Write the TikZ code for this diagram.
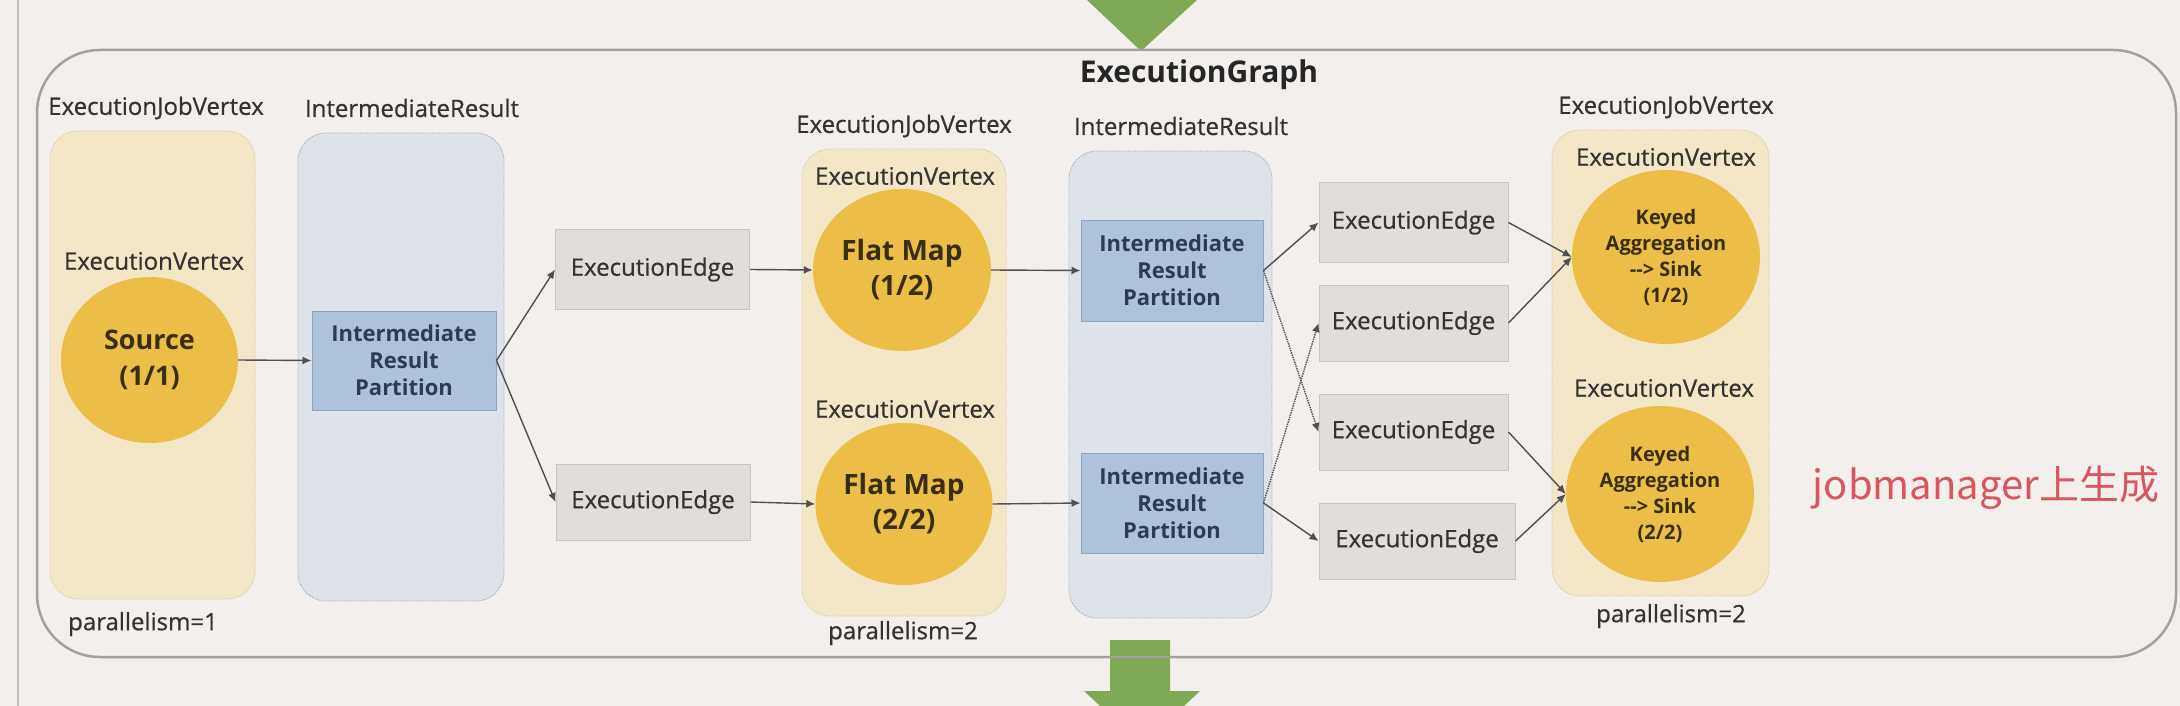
\documentclass[tikz,border=0pt]{standalone}
\usepackage{fontspec}
\setmainfont{Open Sans}
\newfontfamily\lblfont[FakeBold=0.6]{Open Sans}
\newfontfamily\cjkfont{Noto Sans CJK SC}
\usepackage{tikz}
\usetikzlibrary{shapes.geometric}
\usetikzlibrary{arrows.meta}
\usetikzlibrary{positioning}

\definecolor{bgcol}{HTML}{F2EFEC}
\definecolor{framecol}{HTML}{A3A09D}
\definecolor{jvfill}{HTML}{F4E7C8}
\definecolor{jvline}{HTML}{D2C39C}
\definecolor{irfill}{HTML}{DEE3EA}
\definecolor{irline}{HTML}{98A4B4}
\definecolor{partfill}{HTML}{AEC2DA}
\definecolor{partline}{HTML}{8EA3BF}
\definecolor{parttext}{HTML}{2E3B52}
\definecolor{edgefill}{HTML}{E1DDDA}
\definecolor{edgeline}{HTML}{C9C5C1}
\definecolor{opcol}{HTML}{ECBE48}
\definecolor{optext}{HTML}{3A2E12}
\definecolor{lbltext}{HTML}{333333}
\definecolor{conncol}{HTML}{505050}
\definecolor{greencol}{HTML}{80A956}
\definecolor{redtext}{HTML}{D95560}

\begin{document}
\begin{tikzpicture}[x=1pt,y=-1pt,
    jvbox/.style={rectangle, rounded corners=28pt, fill=jvfill, draw=jvline, densely dotted, line width=0.8pt, inner sep=0pt},
    irbox/.style={rectangle, rounded corners=28pt, fill=irfill, draw=irline, densely dotted, line width=0.8pt, inner sep=0pt},
    partbox/.style={rectangle, fill=partfill, draw=partline, line width=1pt, align=center, text=parttext, font=\bfseries\fontsize{22}{27}\selectfont, inner sep=0pt},
    edgebox/.style={rectangle, fill=edgefill, draw=edgeline, line width=1pt, text=lbltext, font=\lblfont\fontsize{24}{28}\selectfont, inner sep=0pt},
    opnode/.style={ellipse, fill=opcol, inner sep=0pt, align=center, text=optext},
    lbl/.style={text=lbltext, font=\lblfont\fontsize{24}{28}\selectfont, inner sep=0pt},
    conn/.style={draw=conncol, line width=1.4pt, -{Latex[length=9pt,width=8pt]}},
    crossconn/.style={conn, densely dotted}]
\clip (0,0) rectangle (2180,706);
\fill[bgcol] (0,0) rectangle (2180,706);
\draw[framecol!70, line width=1.5pt] (18,0) -- (18,706);

% green arrows between the stages
\fill[greencol] (1087,0) -- (1197,0) -- (1141,51) -- cycle;
\fill[greencol] (1110,640) -- (1170,640) -- (1170,691) -- (1200,691) -- (1142,745) -- (1084,691) -- (1110,691) -- cycle;

% outer frame
\draw[framecol, line width=2.5pt, rounded corners=63pt] (37,50) rectangle (2176,657);
\node[font=\bfseries\fontsize{30}{34}\selectfont, text=black!85] (title) at (1199,75) {ExecutionGraph};

% source vertex
\node[jvbox, minimum width=205pt, minimum height=468pt] (jv1) at (152.5,365) {};
\node[lbl] (jv1lbl) at (156,108) {ExecutionJobVertex};
\node[lbl] (ev1) at (154,261) {ExecutionVertex};
\node[opnode, minimum width=177pt, minimum height=166pt, font=\bfseries\fontsize{27}{36}\selectfont] (src) at (149.5,360) {Source\\(1/1)};
\node[lbl] (par1) at (143,624) {parallelism=1};

% first intermediate result
\node[irbox, minimum width=206pt, minimum height=468pt] (ir1) at (401,367) {};
\node[lbl] (ir1lbl) at (412,108) {IntermediateResult};
\node[partbox, minimum width=184pt, minimum height=99pt] (p1) at (404,360.5) {Intermediate\\Result\\Partition};

% edges to flat map
\node[edgebox, minimum width=194pt, minimum height=80pt] (e1) at (652.5,269.5) {ExecutionEdge};
\node[edgebox, minimum width=194pt, minimum height=76pt] (e2) at (653,502) {ExecutionEdge};

% flat map vertex
\node[jvbox, minimum width=204pt, minimum height=467pt] (jv2) at (904,382.5) {};
\node[lbl] (jv2lbl) at (904,126) {ExecutionJobVertex};
\node[lbl] (ev2a) at (905,176) {ExecutionVertex};
\node[lbl] (ev2b) at (905,409) {ExecutionVertex};
\node[opnode, minimum width=178pt, minimum height=162pt, font=\bfseries\fontsize{28}{35}\selectfont] (fm1) at (902,270) {Flat Map\\(1/2)};
\node[opnode, minimum width=177pt, minimum height=162pt, font=\bfseries\fontsize{28}{35}\selectfont] (fm2) at (904,504) {Flat Map\\(2/2)};
\node[lbl] (par2) at (903,633) {parallelism=2};

% second intermediate result
\node[irbox, minimum width=203pt, minimum height=467pt] (ir2) at (1170.5,384.5) {};
\node[lbl] (ir2lbl) at (1181,126) {IntermediateResult};
\node[partbox, minimum width=182pt, minimum height=101pt] (p2a) at (1172,270.5) {Intermediate\\Result\\Partition};
\node[partbox, minimum width=182pt, minimum height=100pt] (p2b) at (1172,503) {Intermediate\\Result\\Partition};

% edges to aggregation
\node[edgebox, minimum width=189pt, minimum height=79pt] (e3a) at (1413.5,222.5) {ExecutionEdge};
\node[edgebox, minimum width=189pt, minimum height=76pt] (e3b) at (1413.5,323) {ExecutionEdge};
\node[edgebox, minimum width=189pt, minimum height=76pt] (e3c) at (1413.5,432) {ExecutionEdge};
\node[edgebox, minimum width=196pt, minimum height=76pt] (e3d) at (1417,541) {ExecutionEdge};

% aggregation / sink vertex
\node[jvbox, minimum width=217pt, minimum height=466pt] (jv3) at (1660.5,363) {};
\node[lbl] (jv3lbl) at (1666,107) {ExecutionJobVertex};
\node[lbl] (ev3a) at (1666,157) {ExecutionVertex};
\node[lbl] (ev3b) at (1664,388) {ExecutionVertex};
\node[opnode, minimum width=188pt, minimum height=174pt, font=\bfseries\fontsize{20}{26}\selectfont] (k1) at (1666,257) {Keyed\\Aggregation\\-{}-> Sink\\(1/2)};
\node[opnode, minimum width=188pt, minimum height=176pt, font=\bfseries\fontsize{20}{26}\selectfont] (k2) at (1660,494) {Keyed\\Aggregation\\-{}-> Sink\\(2/2)};
\node[lbl] (par3) at (1671,616) {parallelism=2};

\node[text=redtext, font=\cjkfont\fontsize{40}{44}\selectfont] (note) at (1986,488) {jobmanager上生成};

% connectors
\draw[conn] (src.east) -- (p1.west);
\draw[conn] (p1.east) -- (e1.west);
\draw[conn] (p1.east) -- (e2.west);
\draw[conn] (e1.east) -- (fm1.west);
\draw[conn] (e2.east) -- (fm2.west);
\draw[conn] (fm1.east) -- (p2a.west);
\draw[conn] (fm2.east) -- (p2b.west);
\draw[conn] (p2a.east) -- (e3a.west);
\draw[crossconn] (p2a.east) -- (e3c.west);
\draw[crossconn] (p2b.east) -- (e3b.west);
\draw[conn] (p2b.east) -- (e3d.west);
\draw[conn] (e3a.east) -- (k1.west);
\draw[conn] (e3b.east) -- (k1.west);
\draw[conn] (e3c.east) -- (k2.west);
\draw[conn] (e3d.east) -- (k2.west);
\end{tikzpicture}
\end{document}
